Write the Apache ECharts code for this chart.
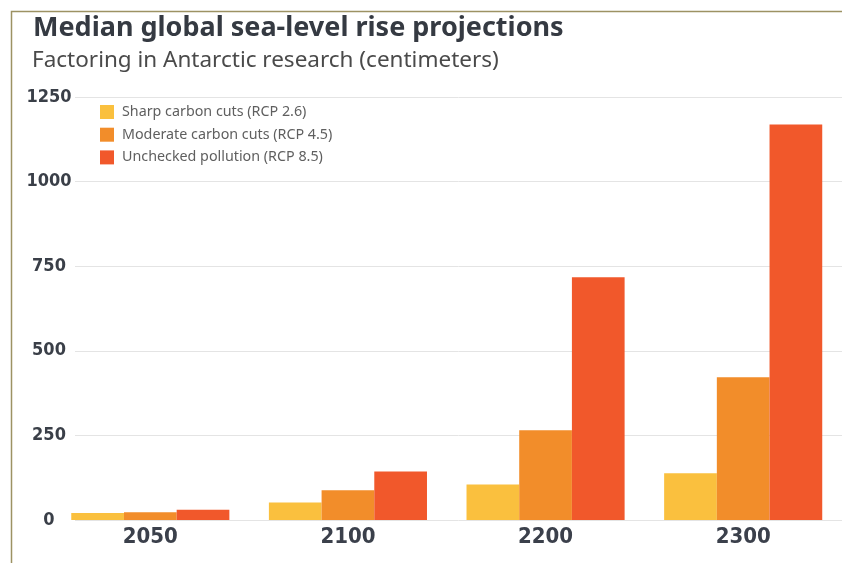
<!DOCTYPE html>
<html>
<head>
<meta charset="utf-8">
<title>Median global sea-level rise projections</title>
<script src="https://cdn.jsdelivr.net/npm/echarts@6/dist/echarts.min.js"></script>
<style>
  html, body { margin: 0; padding: 0; background: #fff; }
  #chart { width: 842px; height: 563px; }
</style>
</head>
<body>
<div id="chart"></div>
<script>
const years = ['2050', '2100', '2200', '2300'];
const sharpCuts = [21, 52, 105, 138];
const moderateCuts = [23, 88, 265, 422];
const uncheckedPollution = [30, 143, 717, 1169];
const yTicks = [0, 250, 500, 750, 1000, 1250];

const seriesNames = [
  'Sharp carbon cuts (RCP 2.6)',
  'Moderate carbon cuts (RCP 4.5)',
  'Unchecked pollution (RCP 8.5)',
];

const labelFont = '"DejaVu Sans Condensed", "Liberation Sans Narrow", sans-serif';
const textFont = '"Noto Sans", "Open Sans", sans-serif';

const chart = echarts.init(document.getElementById('chart'));

const option = {
  backgroundColor: '#fff',
  color: ['#FAC03E', '#F28D2A', '#F1582B'],
  animation: false,
  title: [
    {
      text: 'Median global sea-level rise projections',
      left: 28,
      top: 10,
      textStyle: { fontFamily: textFont, fontSize: 27, fontWeight: 'bold', color: '#353a42' },
    },
    {
      text: 'Factoring in Antarctic research (centimeters)',
      left: 27,
      top: 44,
      textStyle: { fontFamily: textFont, fontSize: 22.5, fontWeight: 'normal', color: '#4a4a4a' },
    },
  ],
  legend: {
    orient: 'vertical',
    left: 100,
    top: 105,
    padding: 0,
    itemWidth: 14,
    itemHeight: 14,
    itemGap: 8.7,
    icon: 'rect',
    data: seriesNames,
    textStyle: { fontFamily: textFont, fontSize: 14.3, color: '#5f5f5f', padding: [0, 0, 0, 3] },
  },
  /* grid 0 holds the bars, grid 1 only draws the gridlines and y labels */
  grid: [
    { left: 51.5, width: 800, top: 97, bottom: 43 },
    { left: 75, right: 0, top: 97, bottom: 43 },
  ],
  xAxis: [
    {
      type: 'category',
      gridIndex: 0,
      data: years,
      axisLine: { show: false },
      axisTick: { show: false },
      axisLabel: {
        margin: 6,
        fontFamily: labelFont,
        fontSize: 22,
        fontWeight: 'bold',
        color: '#3b404b',
      },
    },
    {
      type: 'value',
      gridIndex: 1,
      show: false,
    },
  ],
  yAxis: [
    {
      type: 'value',
      gridIndex: 0,
      min: yTicks[0],
      max: yTicks[yTicks.length - 1],
      interval: 250,
      show: false,
    },
    {
      type: 'value',
      gridIndex: 1,
      min: yTicks[0],
      max: yTicks[yTicks.length - 1],
      interval: 250,
      axisLine: { show: false },
      axisTick: { show: false },
      splitLine: { lineStyle: { color: '#e4e4e4', width: 1 } },
      axisLabel: {
        margin: 26,
        align: 'center',
        formatter: (v) => String(v),
        fontFamily: labelFont,
        fontSize: 18,
        fontWeight: 'bold',
        color: '#3a3f48',
      },
    },
  ],
  series: [
    { name: seriesNames[0], type: 'bar', data: sharpCuts },
    { name: seriesNames[1], type: 'bar', data: moderateCuts },
    { name: seriesNames[2], type: 'bar', data: uncheckedPollution },
  ].map((s) => ({
    ...s,
    xAxisIndex: 0,
    yAxisIndex: 0,
    barGap: '0%',
    barCategoryGap: '20%',
    z: 3,
  })),
  graphic: [
    {
      type: 'rect',
      left: 9,
      top: 9,
      shape: { width: 900, height: 600 },
      style: { fill: 'none', stroke: '#9d9263', lineWidth: 1.5 },
      silent: true,
    },
  ],
};

chart.setOption(option);
</script>
</body>
</html>
